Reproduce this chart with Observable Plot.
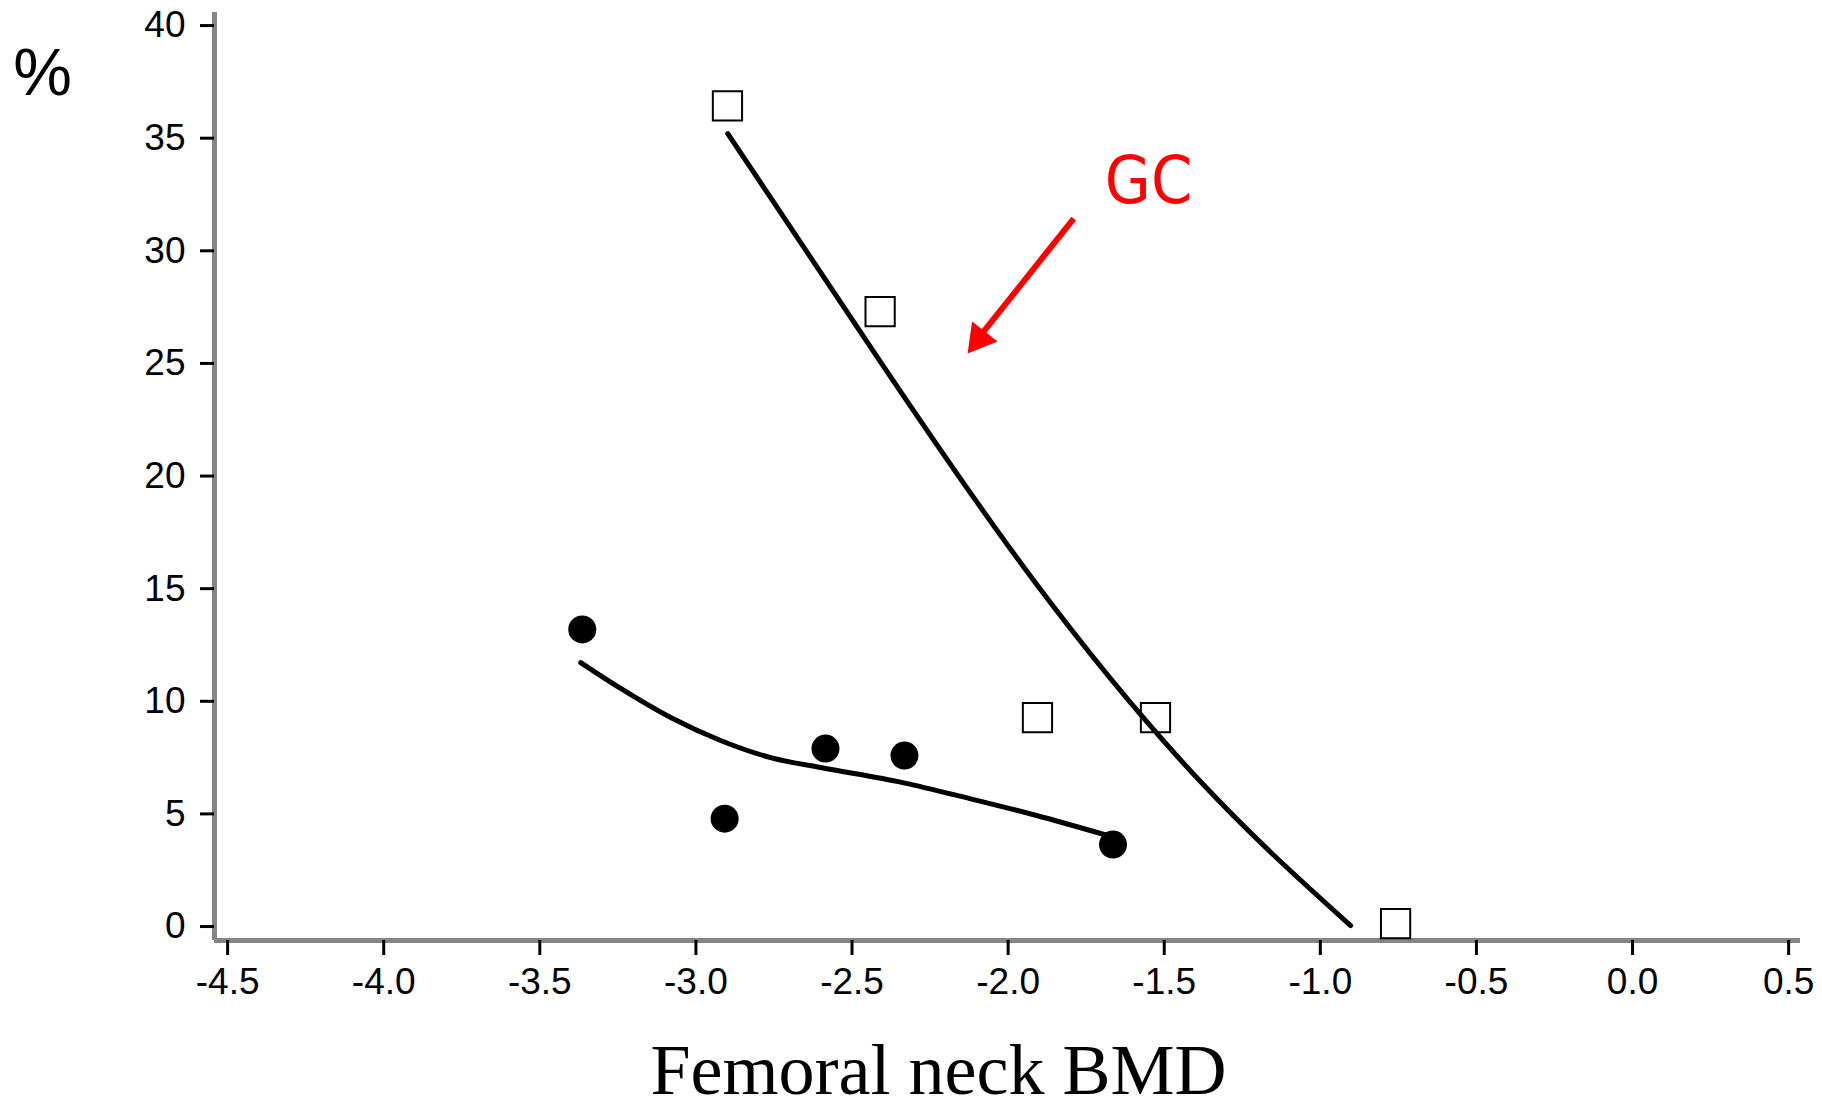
<!DOCTYPE html>
<html>
<head>
<meta charset="utf-8">
<script src="https://cdn.jsdelivr.net/npm/d3@7"></script>
<script src="https://cdn.jsdelivr.net/npm/@observablehq/plot@0.6"></script>
<style>
  html, body { margin: 0; padding: 0; background: #ffffff; }
</style>
</head>
<body>
<script>
// Tick values
const xTicks = [-4.5, -4.0, -3.5, -3.0, -2.5, -2.0, -1.5, -1.0, -0.5, 0.0, 0.5];
const yTicks = [0, 5, 10, 15, 20, 25, 30, 35, 40];

// Filled circles (non-GC)
const circleX = [-3.364, -2.908, -2.585, -2.332, -1.664];
const circleY = [13.19, 4.79, 7.90, 7.59, 3.64];

// Open squares (GC)
const squareX = [-2.899, -2.41, -1.906, -1.528, -0.759];
const squareY = [36.43, 27.30, 9.28, 9.28, 0.13];

// Fitted curve through GC squares
const gcFitX = [-2.898, -2.418, -1.918, -1.387, -0.903];
const gcFitY = [35.2, 25.26, 15.36, 6.48, 0.04];

// Fitted curve through circles
const circFitX = [-3.369, -3.241, -3.081, -2.921, -2.761, -2.601, -2.338, -2.123, -1.909, -1.681];
const circFitY = [11.72, 10.57, 9.28, 8.26, 7.50, 7.06, 6.39, 5.68, 4.93, 4.04];

// Annotation: "GC" label and red arrow (shaft start, head centroid, head rotation)
const gcLabel = {x: -1.55, y: 32.14, text: "GC"};
const gcArrowShaft = {x1: -1.790, y1: 31.43, x2: -2.085, y2: 26.3};
const gcArrowHead = {x: -2.093, y: 26.09, rotate: 218};

const xDomain = [-4.542, 0.538];
const yDomain = [-0.62, 40.58];

const circles = circleX.map((x, i) => ({x, y: circleY[i]}));
const squares = squareX.map((x, i) => ({x, y: squareY[i]}));
const gcFit = gcFitX.map((x, i) => ({x, y: gcFitY[i]}));
const circFit = circFitX.map((x, i) => ({x, y: circFitY[i]}));

const chart = Plot.plot({
  width: 1822,
  height: 1108,
  marginLeft: 214,
  marginRight: 22,
  marginTop: 12,
  marginBottom: 168,
  x: {domain: xDomain},
  y: {domain: yDomain},
  style: {fontFamily: "'Liberation Sans', Arial, sans-serif", background: "#ffffff", color: "black"},
  marks: [
    Plot.ruleX([xDomain[0]], {stroke: "#858585", strokeWidth: 5}),
    Plot.ruleY([yDomain[0]], {stroke: "#858585", strokeWidth: 5}),
    Plot.axisX(xTicks, {
      tickSize: 15, tickPadding: 12, strokeWidth: 3, stroke: "black",
      tickFormat: d => d.toFixed(1), fontSize: 37, fill: "black", label: null
    }),
    Plot.axisY(yTicks, {
      tickSize: 14, tickPadding: 15, strokeWidth: 3, stroke: "black",
      tickFormat: d => String(d), fontSize: 37, fill: "black", label: null
    }),
    Plot.dot(squares, {x: "x", y: "y", symbol: "square", r: 16.5, stroke: "black", strokeWidth: 2, fill: "none"}),
    Plot.line(gcFit, {x: "x", y: "y", curve: "natural", stroke: "black", strokeWidth: 5}),
    Plot.line(circFit, {x: "x", y: "y", curve: "monotone-x", stroke: "black", strokeWidth: 5}),
    Plot.dot(circles, {x: "x", y: "y", r: 14, fill: "black"}),
    Plot.link([gcArrowShaft], {x1: "x1", y1: "y1", x2: "x2", y2: "y2", stroke: "#ff0000", strokeWidth: 6}),
    Plot.dot([gcArrowHead], {x: "x", y: "y", symbol: "triangle", r: 12, rotate: "rotate", fill: "#ff0000", stroke: "none"}),
    Plot.text([gcLabel], {x: "x", y: "y", text: "text", fill: "#ff0000", fontSize: 66, lineAnchor: "bottom", textAnchor: "middle",
      fontFamily: "'Liberation Sans Narrow', 'DejaVu Sans Condensed', Roboto, sans-serif"}),
    Plot.text(["%"], {frameAnchor: "top-left", text: d => d, dx: -172, dy: 82, fontSize: 66, lineAnchor: "bottom", textAnchor: "middle", fill: "black"}),
    Plot.text(["Femoral neck BMD"], {frameAnchor: "bottom", text: d => d, dx: -69, dy: 153, fontSize: 72, lineAnchor: "bottom", textAnchor: "middle",
      fill: "black", fontFamily: "'Liberation Serif', 'Times New Roman', serif"})
  ]
});
document.body.appendChild(chart);
</script>
</body>
</html>
